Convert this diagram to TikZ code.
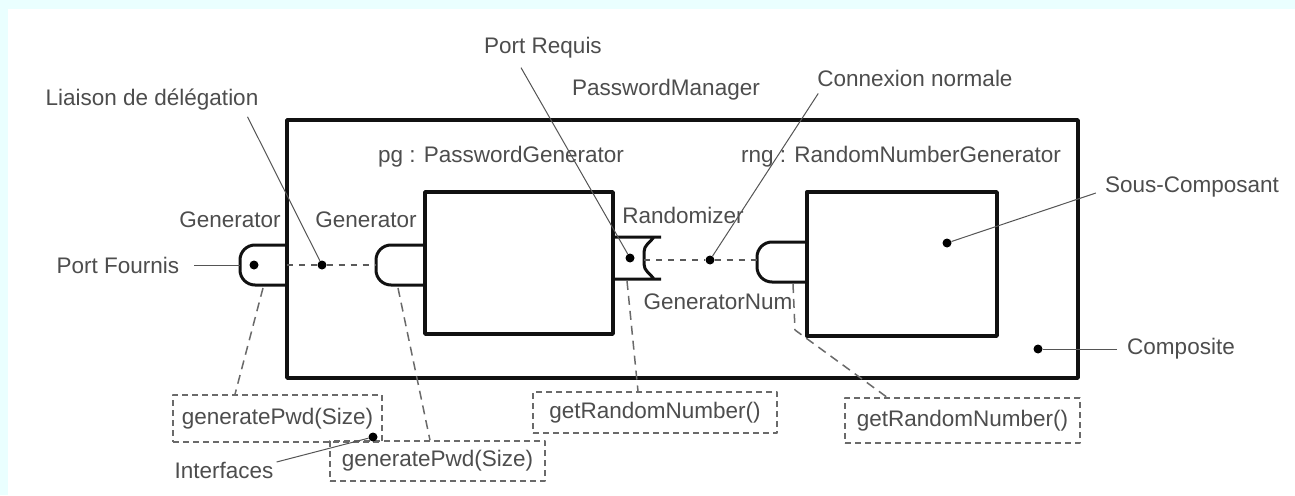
\documentclass[tikz,border=0pt]{standalone}
\usepackage{fontspec}
\setmainfont{Liberation Sans}
\usetikzlibrary{calc, positioning}
\definecolor{pageC}{HTML}{EAFFFF}
\definecolor{labelC}{HTML}{4D4D4D}
\definecolor{leaderC}{HTML}{555555}
\definecolor{ifaceC}{HTML}{6A6A6A}
\definecolor{wireC}{HTML}{5A5A5A}
\definecolor{frameC}{HTML}{111111}
\def\lwFrame{3.4pt}
\def\lwPort{3pt}
\def\lwLeader{1pt}
\def\lwIface{1.5pt}
\def\portR{15}

\tikzset{
  lbl/.style={text=labelC, inner sep=1pt, font=\fontsize{22.5}{26}\selectfont},
  compbox/.style={draw=frameC, line width=\lwFrame, inner sep=0},
  portline/.style={draw=frameC, line width=\lwPort, rounded corners=\portR},
  leader/.style={draw=leaderC, line width=\lwLeader},
  dotc/.style={circle, fill=black, inner sep=0, minimum size=9pt},
  wire/.style={draw=wireC, line width=1.5pt, dash pattern=on 6pt off 6pt},
  ifaceline/.style={draw=ifaceC, line width=\lwIface, dash pattern=on 9pt off 6pt},
  ifacebox/.style={draw=ifaceC, line width=\lwIface, dash pattern=on 6pt off 4pt,
    text=labelC, inner sep=0, font=\fontsize{22.5}{26}\selectfont},
}

\begin{document}
\begin{tikzpicture}[x=1pt, y=-1pt, line cap=butt, line join=round]

  % Page
  \fill[pageC] (0,0) rectangle (1295,495);
  \fill[white] (8,9) rectangle (1295,495);
  \useasboundingbox (0,0) rectangle (1295,495);

  % Composite and sub-components
  \node[compbox, minimum width=791, minimum height=258] (composite) at (682.5,249) {};
  \node[compbox, minimum width=188, minimum height=142] (pg) at (519,263) {};
  \node[compbox, minimum width=190, minimum height=144] (rng) at (902,264) {};

  % Ports
  \draw[portline] (287,245) -- (240,245) -- (240,285) -- (287,285);
  \draw[portline] (425,245) -- (376,245) -- (376,285) -- (425,285);
  \draw[portline] (807,242) -- (757,242) -- (757,282) -- (807,282);
  \draw[draw=frameC, line width=\lwPort]
    (613,237) -- (661,237) (613,279) -- (661,279)
    (654,237) to[out=-125, in=90] (644,252) -- (644,264) to[out=-90, in=125] (654,279);

  \coordinate (portFW) at (240,265);
  \coordinate (portFE) at (287,265);
  \coordinate (pgPortW) at (376,265);
  \coordinate (reqPortE) at (644,260);
  \coordinate (rngPortW) at (757,260);

  % Dots
  \node[dotc] (portDot) at (254,265) {};
  \node[dotc] (delegDot) at (322,265) {};
  \node[dotc] (reqDot) at (630,258) {};
  \node[dotc] (connDot) at (710,260) {};
  \node[dotc] (subDot) at (947,243) {};
  \node[dotc] (compDot) at (1038,349) {};

  % Delegation and normal connections
  \draw[wire] (portFE) -- (delegDot) -- (pgPortW);
  \draw[wire] (reqPortE) -- (connDot) -- (rngPortW);

  % Interfaces
  \node[ifacebox, minimum width=209, minimum height=47] (pwdA) at (277.5,418.5) {generatePwd(Size)};
  \node[ifacebox, minimum width=215, minimum height=40] (pwdB) at (437.5,461) {generatePwd(Size)};
  \node[ifacebox, minimum width=244, minimum height=41] (rndA) at (655,412.5) {getRandomNumber()};
  \node[ifacebox, minimum width=235, minimum height=45] (rndB) at (962.5,420.5) {getRandomNumber()};
  \node[dotc] (ifaceDot) at (373,437) {};

  \coordinate (portFS) at (263,288);
  \coordinate (pgPortS) at (398,288);
  \coordinate (reqPortS) at (627,281);
  \coordinate (rngPortS) at (793,284);
  \coordinate (rngBend) at (795,330);

  \draw[ifaceline] (portFS) -- (pwdA.north -| 235,0);
  \draw[ifaceline] (pgPortS) -- (pwdB.north -| 430,0);
  \draw[ifaceline] (reqPortS) -- (rndA.north -| 638,0);
  \draw[ifaceline] (rngPortS) -- (rngBend) -- (rndB.north -| 887,0);

  % Labels
  \node[lbl] (liaisonL) at (152,100) {Liaison de délégation};
  \node[lbl] (portReqL) at (543,48) {Port Requis};
  \node[lbl] (managerL) at (666,90) {PasswordManager};
  \node[lbl] (connL) at (915,78) {Connexion normale};
  \node[lbl] (pgL) at (501,157) {pg : PasswordGenerator};
  \node[lbl] (rngL) at (901,157) {rng : RandomNumberGenerator};
  \node[lbl] (genAL) at (230,220) {Generator};
  \node[lbl] (genBL) at (366,220) {Generator};
  \node[lbl] (randL) at (683,215) {Randomizer};
  \node[lbl] (genNumL) at (718,302) {GeneratorNum};
  \node[lbl] (portFL) at (118,265) {Port Fournis};
  \node[lbl] (subL) at (1192,187) {Sous-Composant};
  \node[lbl] (compL) at (1181,349) {Composite};
  \node[lbl] (ifaceL) at (224,470) {Interfaces};

  % Leader lines
  \draw[leader] ($(liaisonL.south east)+(-12,5)$) -- (delegDot);
  \draw[leader] ($(portReqL.south west)+(38,8)$) -- (reqDot);
  \draw[leader] ($(connL.south west)+(2,6)$) -- (connDot);
  \draw[leader] ($(subL.west)+(-8,6)$) -- (subDot);
  \draw[leader] ($(compL.west)+(-9,0)$) -- (compDot);
  \draw[leader] ($(portFL.east)+(14,0)$) -- (portFW);
  \draw[leader] ($(ifaceL.east)+(2,-8)$) -- (ifaceDot);
\end{tikzpicture}
\end{document}
